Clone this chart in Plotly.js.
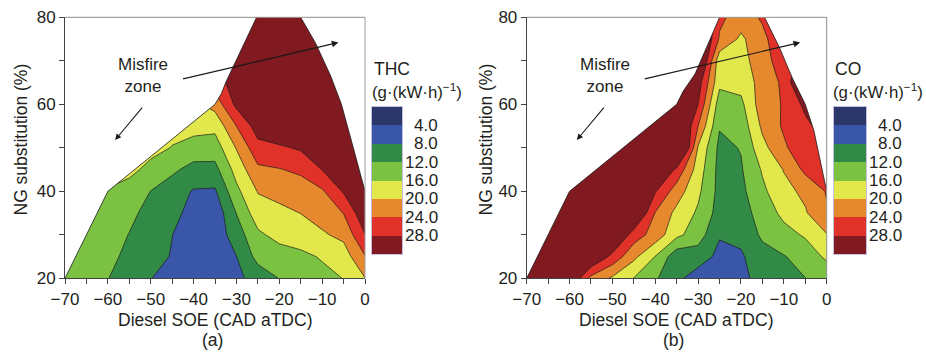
<!DOCTYPE html>
<html><head><meta charset="utf-8">
<script src="https://cdn.plot.ly/plotly-3.0.1.min.js"></script>
<style>html,body{margin:0;padding:0;background:#fff}</style>
</head><body><div id="chart" style="width:926px;height:352px"></div>
<script>
// Diesel SOE (CAD aTDC) grid and NG substitution (%) grid
const soeX = [-70, -65, -60, -55, -50, -45, -40, -35, -30, -25, -20, -15, -10, -5, 0];
const ngY = [20, 25, 30, 35, 40, 45, 50, 55, 60, 65, 70, 75, 80];

// THC, g/(kW·h), rows follow ngY, columns follow soeX
const thcZ = [
  [14.6, 13.3, 12.1, 10.1, 8.1, 6.5, 5.5, 5.8, 7.0, 9.7, 12.1, 13.3, 14.7, 16.1, 19.9],
  [14.8, 13.9, 13.2, 10.9, 9.2, 7.8, 5.6, 5.6, 7.96, 13.3, 14.0, 15.0, 16.4, 18.0, 23.8],
  [15.0, 14.5, 13.6, 11.9, 9.8, 8.05, 6.0, 5.6, 10.0, 15.2, 17.4, 18.2, 19.5, 21.0, 27.9],
  [15.2, 14.8, 14.2, 12.8, 10.9, 8.6, 7.3, 5.3, 12.1, 18.3, 19.2, 20.05, 21.6, 24.1, 31.0],
  [15.5, 15.5, 15.8, 14.0, 11.95, 9.8, 7.7, 7.5, 15.0, 20.2, 21.0, 21.9, 23.5, 28.4, 31.0],
  [17.0, 17.0, 17.0, 17.3, 14.6, 12.8, 10.6, 10.8, 17.5, 23.2, 23.8, 24.8, 28.1, 31.0, 33.0],
  [17.5, 17.5, 17.5, 17.5, 17.5, 15.8, 14.5, 14.0, 20.25, 26.7, 27.4, 28.5, 31.0, 33.0, 34.0],
  [17.5, 17.5, 17.5, 17.5, 17.5, 17.5, 17.3, 17.1, 24.0, 29.9, 31.5, 33.0, 34.0, 34.0, 34.0],
  [19.0, 19.0, 19.0, 19.0, 19.0, 19.0, 19.0, 21.5, 29.0, 32.0, 33.5, 34.0, 34.0, 34.0, 34.0],
  [22.0, 22.0, 22.0, 22.0, 22.0, 22.0, 22.0, 26.0, 30.0, 32.0, 33.0, 34.0, 34.0, 34.0, 34.0],
  [30.0, 30.0, 30.0, 30.0, 30.0, 30.0, 30.0, 30.0, 31.0, 32.0, 33.0, 33.0, 33.0, 33.0, 33.0],
  [32.0, 32.0, 32.0, 32.0, 32.0, 32.0, 32.0, 32.0, 32.0, 33.0, 33.0, 33.0, 33.0, 33.0, 33.0],
  [33.0, 33.0, 33.0, 33.0, 33.0, 33.0, 33.0, 33.0, 33.0, 33.0, 33.0, 33.0, 33.0, 33.0, 33.0]
];

// CO, g/(kW·h)
const coZ = [
  [34, 34, 32.8, 22.8, 19.4, 15.9, 12.5, 8.93, 6.0, 5.0, 5.5, 11.45, 11.7, 11.95, 13.0],
  [34, 34, 34, 32.8, 26.8, 21.0, 15.9, 9.4, 10.0, 7.0, 7.5, 10.5, 11.8, 13.5, 16.8],
  [34, 34, 34, 34, 34, 26.0, 22.36, 17.0, 13.9, 8.3, 9.0, 12.7, 14.5, 16.5, 19.8],
  [34, 34, 34, 34, 34, 34, 23.8, 18.9, 15.4, 10.4, 10.5, 13.5, 17.1, 19.6, 23.5],
  [34, 34, 34, 34, 34, 34, 28.3, 22.0, 16.8, 10.75, 11.0, 15.2, 18.8, 20.9, 24.3],
  [34, 34, 34, 34, 34, 34, 34, 27.1, 18.06, 10.7, 11.6, 16.4, 20.2, 24.95, 27.5],
  [36, 36, 36, 36, 36, 36, 36, 40, 19.6, 11.0, 12.2, 18.75, 23.3, 27.0, 27.5],
  [36, 36, 36, 36, 36, 36, 36, 36, 24.0, 12.3, 13.5, 20.8, 24.6, 27.0, 30.0],
  [36, 36, 36, 36, 36, 36, 36, 36, 28.0, 13.8, 15.0, 22.3, 24.3, 29.0, 32.0],
  [36, 36, 36, 36, 36, 36, 36, 36, 30.0, 17.0, 17.5, 21.5, 24.8, 35.0, 36.0],
  [36, 36, 36, 36, 36, 36, 36, 36, 35.6, 17.4, 18.5, 22.3, 26.2, 30.0, 32.0],
  [36, 36, 36, 36, 36, 36, 36, 36, 36.0, 23.5, 19.2, 23.0, 27.0, 30.0, 32.0],
  [36, 36, 36, 36, 36, 36, 36, 36, 36.0, 24.9, 22.0, 24.5, 30.0, 32.0, 32.0]
];

// contour levels and band colours
const levels = [4, 8, 12, 16, 20, 24, 28];
const bandColors = ['#2b376b', '#3a56a8', '#318a45', '#7bc243', '#e2e84c', '#e6892e', '#e1322a', '#811a20'];

// misfire-zone boundaries
const thcMisfireLeftX = [-70, -60, -35, -33.5, -32.5, -25.3];
const thcMisfireLeftY = [20, 40, 60, 62.5, 65, 80];
const thcMisfireRightX = [-15, -11.5, -8, -5.5, -3, 0];
const thcMisfireRightY = [80, 74, 66.5, 60, 51, 40];
const coMisfireLeftX = [-70, -60, -35, -33.5, -30.7, -28, -25];
const coMisfireLeftY = [20, 40, 60, 63, 67, 73, 80];
const coMisfireRightX = [-14.5, -11, -8, -5, -3, 0];
const coMisfireRightY = [80, 73, 66, 60, 54, 40];

const FONT = 'Liberation Sans, Arial, Helvetica, sans-serif';
const TXT = '#231f20';
const nB = bandColors.length;
const colorscale = bandColors.map((c, i) => [i / (nB - 1), c]);
const step = levels[1] - levels[0];
const bandEdges = [levels[0] - step].concat(levels, [levels[levels.length - 1] + step]);
const bandCenters = bandEdges.slice(0, -1).map((e, i) => (e + bandEdges[i + 1]) / 2);

const xMin = soeX[0], xMax = soeX[soeX.length - 1];
const yMax = ngY[ngY.length - 1];

function contour(z, xa, ya) {
  return {
    type: 'contour', x: soeX, y: ngY, z: z, xaxis: xa, yaxis: ya,
    autocontour: false,
    contours: {start: levels[0], end: levels[levels.length - 1], size: step, coloring: 'fill', showlines: true},
    colorscale: colorscale, showscale: false,
    line: {color: '#1a1a1a', width: 0.7, smoothing: 0},
    hoverinfo: 'skip'
  };
}
function maskFill(bx, by, cornerX, xa, ya) {
  return {type: 'scatter', mode: 'lines', x: bx.concat([cornerX]), y: by.concat([yMax]),
    fill: 'toself', fillcolor: '#ffffff', line: {width: 0, color: 'rgba(0,0,0,0)'},
    xaxis: xa, yaxis: ya, hoverinfo: 'skip'};
}
function maskLine(bx, by, xa, ya) {
  return {type: 'scatter', mode: 'lines', x: bx, y: by, line: {color: '#1a1a1a', width: 0.8},
    xaxis: xa, yaxis: ya, hoverinfo: 'skip'};
}
function legendBar(xa, ya) {
  return {type: 'heatmap', x: [0], y: bandEdges, z: bandCenters.map(v => [v]),
    zmin: bandCenters[0], zmax: bandCenters[bandCenters.length - 1],
    colorscale: colorscale, showscale: false, xaxis: xa, yaxis: ya, hoverinfo: 'skip'};
}

const data = [
  contour(thcZ, 'x', 'y'),
  maskFill(thcMisfireLeftX, thcMisfireLeftY, xMin, 'x', 'y'),
  maskFill(thcMisfireRightX, thcMisfireRightY, xMax, 'x', 'y'),
  maskLine(thcMisfireLeftX, thcMisfireLeftY, 'x', 'y'),
  maskLine(thcMisfireRightX, thcMisfireRightY, 'x', 'y'),
  contour(coZ, 'x2', 'y2'),
  maskFill(coMisfireLeftX, coMisfireLeftY, xMin, 'x2', 'y2'),
  maskFill(coMisfireRightX, coMisfireRightY, xMax, 'x2', 'y2'),
  maskLine(coMisfireLeftX, coMisfireLeftY, 'x2', 'y2'),
  maskLine(coMisfireRightX, coMisfireRightY, 'x2', 'y2'),
  legendBar('x3', 'y3'),
  legendBar('x4', 'y4')
];

const W = 926, H = 352;
const px = v => v / W;
const py = v => (H - v) / H;

function xAx(d0, d1, anchor) {
  return {domain: [px(d0), px(d1)], anchor: anchor, range: [xMin, xMax], tick0: 0, dtick: 10,
    ticks: 'outside', ticklen: 5, tickwidth: 1, tickcolor: '#444',
    minor: {dtick: 5, ticks: 'outside', ticklen: 5, tickwidth: 1, tickcolor: '#444'},
    showline: true, linecolor: '#444', linewidth: 1, showgrid: false, zeroline: false,
    tickfont: {family: FONT, size: 17, color: TXT}, fixedrange: true};
}
function yAx(anchor) {
  return {domain: [py(278.3), py(17.3)], anchor: anchor, range: [ngY[0], yMax], tick0: 0, dtick: 20,
    ticks: 'outside', ticklen: 5, tickwidth: 1, tickcolor: '#444',
    minor: {dtick: 10, ticks: 'outside', ticklen: 5, tickwidth: 1, tickcolor: '#444'},
    showline: true, linecolor: '#444', linewidth: 1, showgrid: false, zeroline: false,
    tickfont: {family: FONT, size: 17, color: TXT}, fixedrange: true};
}
function legX(d0, d1, anchor) {
  return {domain: [px(d0), px(d1)], anchor: anchor, range: [-0.5, 0.5], showticklabels: false, ticks: '',
    showgrid: false, zeroline: false, showline: true, mirror: true, linecolor: '#c4c0de', linewidth: 1, fixedrange: true};
}
function legY(anchor) {
  // reversed: lowest band (navy) on top, as in the reference legend
  return {domain: [py(254), py(107)], anchor: anchor, range: [bandEdges[bandEdges.length - 1], bandEdges[0]],
    showticklabels: false, ticks: '', showgrid: false, zeroline: false, showline: true, mirror: true,
    linecolor: '#c4c0de', linewidth: 1, fixedrange: true};
}

const f = (size) => ({family: FONT, size: size, color: TXT});
const ann = [];
function panelNotes(xr, yr) {
  ann.push({xref: xr, yref: yr, x: -51.8, y: 66.6, text: 'Misfire<br>zone', showarrow: false, font: f(17)});
  ann.push({xref: xr, yref: yr, x: -6.2, y: 74.2, axref: xr, ayref: yr, ax: -42.8, ay: 65.75, text: '',
    showarrow: true, arrowhead: 2, arrowsize: 1.1, arrowwidth: 1.2, arrowcolor: '#1a1a1a', standoff: 0});
  ann.push({xref: xr, yref: yr, x: -58.3, y: 51.8, axref: xr, ayref: yr, ax: -51.7, ay: 59.6, text: '',
    showarrow: true, arrowhead: 2, arrowsize: 1.1, arrowwidth: 1.1, arrowcolor: '#1a1a1a', standoff: 0});
}
panelNotes('x', 'y');
panelNotes('x2', 'y2');

function paperText(x, y, text, opts) {
  ann.push(Object.assign({xref: 'paper', yref: 'paper', x: px(x), y: py(y), text: text, showarrow: false,
    font: f(17.5), xanchor: 'center', yanchor: 'middle'}, opts || {}));
}
paperText(215, 320, 'Diesel SOE (CAD aTDC)');
paperText(676, 320, 'Diesel SOE (CAD aTDC)');
paperText(212, 340, '(a)');
paperText(673, 340, '(b)');
paperText(20, 139.5, 'NG substitution (%)', {textangle: -90});
paperText(485, 139.5, 'NG substitution (%)', {textangle: -90});
paperText(372, 68.5, 'THC', {xanchor: 'left'});
paperText(370, 91.5, '(g·(kW·h)<sup>−1</sup>)', {xanchor: 'left', font: f(16.8)});
paperText(833, 68.5, 'CO', {xanchor: 'left'});
paperText(831, 91.5, '(g·(kW·h)<sup>−1</sup>)', {xanchor: 'left', font: f(16.8)});

levels.forEach(v => {
  ann.push({xref: 'paper', yref: 'y3', x: px(439), y: v, text: v.toFixed(1), showarrow: false,
    xanchor: 'right', yanchor: 'middle', borderpad: 0, font: f(17)});
  ann.push({xref: 'paper', yref: 'y4', x: px(903), y: v, text: v.toFixed(1), showarrow: false,
    xanchor: 'right', yanchor: 'middle', borderpad: 0, font: f(17)});
});

const frame = (xr, yr) => [
  {type: 'line', xref: xr + ' domain', yref: yr + ' domain', x0: 0, x1: 1, y0: 1, y1: 1, line: {color: '#9a9a9a', width: 1}},
  {type: 'line', xref: xr + ' domain', yref: yr + ' domain', x0: 1, x1: 1, y0: 0, y1: 1, line: {color: '#9a9a9a', width: 1}}
];

const layout = {
  width: W, height: H, margin: {l: 0, r: 0, t: 0, b: 0},
  paper_bgcolor: '#ffffff', plot_bgcolor: '#ffffff', showlegend: false,
  font: {family: FONT, color: TXT},
  xaxis: xAx(65, 365, 'y'), yaxis: yAx('x'),
  xaxis2: xAx(526.7, 826.7, 'y2'), yaxis2: yAx('x2'),
  xaxis3: legX(372, 402, 'y3'), yaxis3: legY('x3'),
  xaxis4: legX(833.5, 866, 'y4'), yaxis4: legY('x4'),
  annotations: ann,
  shapes: frame('x', 'y').concat(frame('x2', 'y2'))
};

Plotly.newPlot('chart', data, layout, {staticPlot: true, displayModeBar: false});
</script></body></html>
